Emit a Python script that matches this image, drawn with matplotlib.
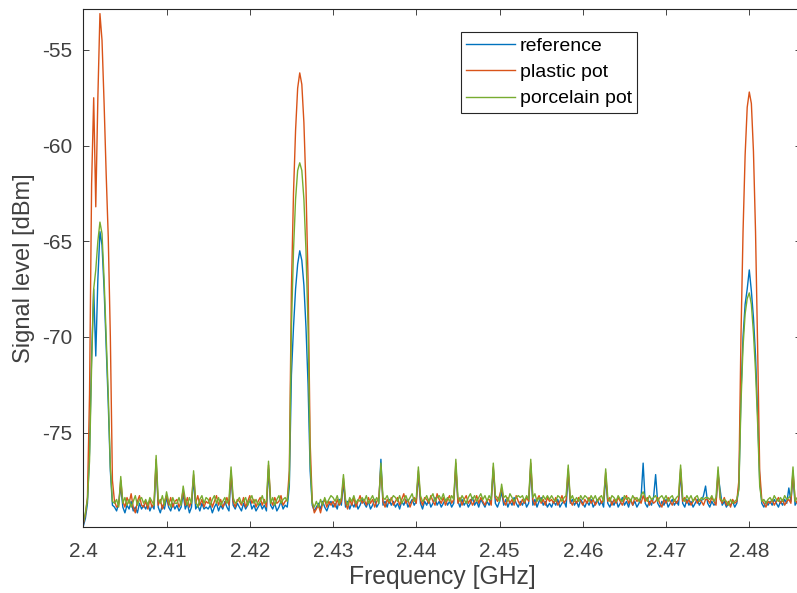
import numpy as np
import matplotlib
matplotlib.use("Agg")
import matplotlib.pyplot as plt

plt.rcParams['font.family'] = ['Liberation Sans', 'DejaVu Sans']

# spectrum sampled every 0.25 MHz from 2.400 GHz
f_start, f_step, n_pts = 2.4, 0.00025, 345

reference = [
    -79.9, -79.5, -78.7, -76.0, -71.0, -67.5, -71.0, -67.0, -64.5, -65.2, -67.5, -70.5, -73.5, -77.0, -78.8,
    -78.9, -79.1, -78.7, -77.8, -78.9, -79.2, -78.8, -79.0, -78.6, -79.1, -78.9, -79.2, -78.7, -79.0, -78.8,
    -79.0, -78.7, -79.1, -78.8, -79.0, -76.6, -78.9, -79.2, -78.8, -79.0, -78.4, -78.9, -79.1, -78.7, -79.0,
    -78.8, -79.1, -78.9, -78.2, -79.0, -78.7, -79.2, -78.9, -77.4, -79.0, -78.8, -79.1, -78.7, -79.0, -78.9,
    -79.0, -78.8, -79.2, -78.9, -78.7, -79.1, -78.8, -79.0, -78.6, -78.9, -79.1, -77.2, -78.8, -79.0, -78.7,
    -78.9, -79.1, -78.7, -79.0, -78.8, -78.5, -79.0, -78.8, -79.1, -78.9, -78.7, -79.0, -78.8, -79.1, -76.9,
    -78.8, -79.0, -78.7, -79.1, -78.9, -78.6, -79.0, -78.8, -78.9, -77.8, -72.0, -69.5, -67.5, -66.2, -65.5,
    -66.0, -67.3, -69.5, -72.5, -77.0, -78.8, -79.1, -78.9, -78.7, -79.0, -78.6, -78.9, -79.1, -78.8, -78.6,
    -78.9, -78.7, -79.0, -78.5, -78.8, -77.6, -78.9, -78.6, -79.0, -78.7, -78.9, -78.6, -79.0, -78.8, -78.5,
    -78.7, -78.9, -78.6, -79.0, -78.8, -78.5, -78.9, -78.7, -76.4, -78.8, -78.6, -78.9, -78.5, -78.8, -78.6,
    -78.9, -78.7, -79.0, -78.6, -78.8, -78.5, -78.9, -78.7, -78.5, -78.8, -78.6, -77.2, -78.7, -79.0, -78.6,
    -78.8, -78.5, -78.9, -78.7, -78.4, -78.8, -78.6, -78.9, -78.7, -78.5, -78.8, -78.6, -78.9, -78.7, -76.8,
    -78.6, -78.9, -78.5, -78.8, -78.6, -78.9, -78.7, -78.4, -78.8, -78.6, -78.9, -78.5, -78.7, -78.9, -78.6,
    -78.8, -78.5, -76.9, -78.7, -78.9, -78.6, -78.1, -78.8, -78.5, -78.9, -78.6, -78.8, -78.4, -78.7, -78.9,
    -78.6, -78.8, -78.5, -78.9, -78.7, -76.8, -78.8, -78.5, -78.9, -78.6, -78.4, -78.8, -78.6, -78.9, -78.7,
    -78.9, -78.6, -78.8, -78.5, -78.9, -78.7, -78.6, -78.9, -77.1, -78.7, -78.5, -78.8, -78.6, -78.9, -78.5,
    -78.7, -78.9, -78.6, -78.8, -78.5, -78.9, -78.7, -78.5, -78.8, -78.6, -78.9, -77.3, -78.7, -78.9, -78.6,
    -78.8, -78.5, -78.9, -78.7, -78.4, -78.8, -78.6, -78.9, -78.5, -78.8, -78.6, -78.9, -78.7, -78.4, -76.6,
    -78.7, -78.9, -78.6, -78.8, -78.4, -77.2, -78.7, -78.9, -78.6, -78.8, -78.5, -78.9, -78.7, -78.5, -78.8,
    -78.6, -78.8, -77.1, -78.7, -78.9, -78.5, -78.8, -78.6, -78.9, -78.7, -78.5, -78.8, -78.6, -78.3, -77.8,
    -78.7, -78.9, -78.6, -78.8, -78.7, -77.2, -78.0, -78.8, -78.6, -78.9, -78.7, -78.8, -78.6, -78.9, -78.7,
    -77.8, -73.0, -70.0, -68.3, -67.5, -66.5, -67.6, -69.0, -71.0, -74.0, -77.5, -78.7, -78.9, -78.6, -78.8,
    -78.6, -78.8, -78.5, -78.7, -78.9, -78.6, -78.8, -78.5, -78.7, -77.9, -78.6, -77.2, -78.8, -78.6, -78.7,
]

plastic_pot = [
    -79.8, -79.3, -78.4, -73.0, -62.0, -57.5, -63.2, -57.5, -53.1, -54.5, -57.8, -61.5, -64.8, -70.0, -77.5,
    -78.6, -78.9, -78.8, -77.5, -78.6, -78.9, -78.4, -78.7, -78.2, -78.9, -79.2, -78.6, -78.3, -78.8, -78.9,
    -78.6, -79.0, -78.5, -78.9, -78.7, -76.4, -78.8, -78.5, -79.0, -78.6, -78.3, -78.8, -78.4, -78.9, -78.6,
    -78.5, -78.9, -78.6, -78.0, -78.8, -78.4, -78.9, -78.6, -77.2, -78.7, -78.3, -78.8, -78.5, -78.9, -78.6,
    -78.7, -78.4, -78.9, -78.6, -78.3, -78.8, -78.5, -78.9, -78.7, -78.4, -78.8, -77.0, -78.6, -78.9, -78.5,
    -78.6, -78.8, -78.4, -78.9, -78.6, -78.3, -78.7, -78.5, -78.9, -78.6, -78.4, -78.8, -78.5, -78.9, -76.7,
    -78.5, -78.8, -78.4, -78.7, -78.6, -78.3, -78.8, -78.6, -78.5, -77.0, -67.5, -62.5, -59.2, -57.0, -56.2,
    -56.8, -58.8, -62.2, -67.0, -75.5, -78.6, -79.2, -79.0, -78.8, -79.2, -78.7, -78.5, -78.9, -78.6, -78.8,
    -78.6, -78.9, -78.5, -78.8, -78.6, -77.4, -78.7, -79.0, -78.5, -78.8, -78.4, -78.9, -78.6, -78.3, -78.7,
    -78.5, -78.8, -78.4, -78.7, -78.5, -78.9, -78.6, -78.4, -76.8, -78.6, -78.9, -78.5, -78.7, -78.4, -78.8,
    -78.6, -78.4, -78.8, -78.5, -78.2, -78.7, -78.5, -78.9, -78.6, -78.4, -78.7, -77.0, -78.5, -78.8, -78.4,
    -78.5, -78.7, -78.3, -78.6, -78.8, -78.2, -78.5, -78.7, -78.4, -78.8, -78.5, -78.3, -78.7, -78.5, -76.6,
    -78.7, -78.4, -78.8, -78.5, -78.3, -78.7, -78.5, -78.8, -78.6, -78.3, -78.7, -78.4, -78.6, -78.8, -78.5,
    -78.5, -78.8, -76.8, -78.4, -78.6, -78.3, -77.9, -78.6, -78.8, -78.4, -78.7, -78.5, -78.8, -78.3, -78.6,
    -78.8, -78.5, -78.7, -78.4, -78.6, -76.6, -78.5, -78.8, -78.5, -78.3, -78.7, -78.5, -78.8, -78.4, -78.6,
    -78.5, -78.7, -78.4, -78.8, -78.6, -78.3, -78.7, -78.5, -76.9, -78.6, -78.8, -78.5, -78.7, -78.4, -78.6,
    -78.8, -78.5, -78.7, -78.4, -78.7, -78.5, -78.8, -78.6, -78.4, -78.7, -78.5, -77.1, -78.6, -78.4, -78.8,
    -78.5, -78.7, -78.4, -78.6, -78.8, -78.5, -78.3, -78.7, -78.5, -78.8, -78.4, -78.6, -78.5, -78.7, -78.3,
    -78.6, -78.4, -78.8, -78.5, -78.7, -78.6, -78.4, -78.7, -78.9, -78.5, -78.7, -78.4, -78.6, -78.8, -78.5,
    -78.7, -78.5, -76.9, -78.6, -78.4, -78.7, -78.5, -78.8, -78.6, -78.4, -78.7, -78.5, -78.6, -78.8, -78.5,
    -78.5, -78.7, -78.4, -78.6, -78.8, -77.0, -78.5, -78.7, -78.4, -78.8, -78.6, -78.9, -78.5, -78.7, -78.6,
    -77.5, -70.0, -64.5, -60.5, -58.0, -57.2, -57.8, -60.3, -64.5, -70.5, -77.0, -78.5, -78.7, -78.9, -78.6,
    -78.7, -78.5, -78.8, -78.6, -78.4, -78.7, -78.5, -78.8, -78.6, -78.5, -78.7, -77.0, -78.5, -78.7, -78.6,
]

porcelain_pot = [
    -79.7, -79.2, -78.5, -76.5, -71.5, -67.5, -66.5, -65.0, -64.0, -64.6, -67.0, -70.0, -73.0, -76.8, -78.6,
    -78.7, -78.5, -78.9, -77.3, -78.7, -78.4, -78.8, -78.5, -78.9, -78.6, -78.3, -78.8, -78.5, -78.4, -78.7,
    -78.5, -78.8, -78.4, -78.6, -78.8, -76.2, -78.5, -78.7, -78.3, -78.8, -78.1, -78.6, -78.9, -78.4, -78.7,
    -78.7, -78.4, -78.8, -77.8, -78.5, -78.8, -78.4, -78.7, -77.0, -78.6, -78.9, -78.5, -78.3, -78.7, -78.4,
    -78.5, -78.8, -78.5, -78.3, -78.7, -78.4, -78.8, -78.6, -78.4, -78.7, -78.5, -76.8, -78.4, -78.7, -78.6,
    -78.4, -78.7, -78.6, -78.4, -78.8, -78.5, -78.3, -78.7, -78.5, -78.8, -78.6, -78.3, -78.7, -78.6, -76.5,
    -78.7, -78.4, -78.8, -78.5, -78.3, -78.7, -78.5, -78.4, -78.6, -77.5, -69.5, -65.5, -62.8, -61.3, -60.9,
    -61.3, -62.8, -65.5, -69.5, -76.5, -78.7, -78.9, -78.6, -78.9, -78.5, -78.8, -78.4, -78.7, -78.5, -78.3,
    -78.4, -78.6, -78.3, -78.7, -78.4, -77.2, -78.5, -78.8, -78.4, -78.6, -78.3, -78.7, -78.5, -78.6, -78.4,
    -78.6, -78.3, -78.7, -78.5, -78.3, -78.6, -78.4, -78.7, -76.6, -78.4, -78.5, -78.3, -78.6, -78.5, -78.3,
    -78.4, -78.6, -78.3, -78.7, -78.5, -78.3, -78.6, -78.4, -78.2, -78.6, -78.4, -76.8, -78.3, -78.6, -78.5,
    -78.3, -78.6, -78.4, -78.2, -78.6, -78.4, -78.3, -78.5, -78.2, -78.6, -78.4, -78.6, -78.3, -78.5, -76.4,
    -78.4, -78.6, -78.3, -78.5, -78.7, -78.4, -78.2, -78.5, -78.3, -78.6, -78.4, -78.2, -78.5, -78.3, -78.6,
    -78.3, -78.5, -76.6, -78.3, -78.4, -78.6, -77.7, -78.4, -78.3, -78.6, -78.2, -78.4, -78.6, -78.4, -78.3,
    -78.4, -78.3, -78.6, -78.3, -78.5, -76.4, -78.4, -78.2, -78.6, -78.4, -78.6, -78.3, -78.5, -78.3, -78.5,
    -78.3, -78.5, -78.6, -78.3, -78.4, -78.6, -78.4, -78.3, -76.7, -78.5, -78.3, -78.6, -78.4, -78.6, -78.3,
    -78.5, -78.3, -78.4, -78.6, -78.3, -78.5, -78.3, -78.6, -78.4, -78.3, -78.6, -76.9, -78.4, -78.6, -78.3,
    -78.4, -78.6, -78.3, -78.5, -78.6, -78.3, -78.5, -78.4, -78.6, -78.3, -78.5, -78.4, -78.6, -78.3, -78.1,
    -78.4, -78.6, -78.3, -78.5, -78.4, -78.3, -78.6, -78.4, -78.3, -78.5, -78.3, -78.6, -78.4, -78.3, -78.6,
    -78.4, -78.3, -76.7, -78.4, -78.6, -78.3, -78.5, -78.3, -78.6, -78.4, -78.3, -78.6, -78.4, -78.5, -78.4,
    -78.4, -78.5, -78.3, -78.6, -78.4, -76.8, -78.4, -78.6, -78.5, -78.6, -78.8, -78.5, -78.7, -78.6, -78.5,
    -78.0, -73.5, -70.5, -68.8, -68.0, -67.7, -68.3, -69.8, -71.8, -74.5, -77.8, -78.6, -78.5, -78.7, -78.5,
    -78.4, -78.6, -78.3, -78.5, -78.6, -78.4, -78.6, -78.3, -78.5, -78.4, -78.3, -76.8, -78.6, -78.4, -78.5,
]

series_names = ['reference', 'plastic pot', 'porcelain pot']
series_colors = ['#0072BD', '#D95319', '#77AC30']

x_ticks = [2.40, 2.41, 2.42, 2.43, 2.44, 2.45, 2.46, 2.47, 2.48]
x_ticklabels = ['2.4', '2.41', '2.42', '2.43', '2.44', '2.45', '2.46', '2.47', '2.48']
y_ticks = [-75, -70, -65, -60, -55]

freq = f_start + f_step * np.arange(n_pts)

fig = plt.figure(figsize=(7.97, 5.93), dpi=100)
ax = fig.add_axes([0.1045, 0.1113, 0.9005, 0.8735])

for vals, name, col in zip([reference, plastic_pot, porcelain_pot], series_names, series_colors):
    ax.plot(freq, vals, color=col, lw=1.0, label=name)

ax.set_xlim(2.4, 2.48621)
ax.set_ylim(-79.94, -52.86)
ax.set_xticks(x_ticks)
ax.set_xticklabels(x_ticklabels)
ax.set_yticks(y_ticks)
ax.set_yticklabels([str(v) for v in y_ticks])

for sp in ax.spines.values():
    sp.set_color('#262626')
    sp.set_linewidth(0.8)
ax.tick_params(direction='in', length=4.5, width=0.6, top=True, right=True,
               colors='#262626', labelcolor='#404040', labelsize=15)
ax.tick_params(axis='x', pad=11)
ax.tick_params(axis='y', pad=8)

ax.set_xlabel('Frequency [GHz]', fontsize=17.8, color='#404040', labelpad=3)
ax.set_ylabel('Signal level [dBm]', fontsize=17, color='#404040', labelpad=5)

leg = ax.legend(loc='upper left', bbox_to_anchor=(461 / 797, 1 - 32 / 593),
                bbox_transform=fig.transFigure, borderaxespad=0, fontsize=14,
                handlelength=2.5, handletextpad=0.25, labelspacing=0.44,
                borderpad=0.28, fancybox=False, framealpha=1)
leg.get_frame().set_edgecolor('#262626')
leg.get_frame().set_linewidth(0.8)

fig.savefig('out.png', dpi=100)
